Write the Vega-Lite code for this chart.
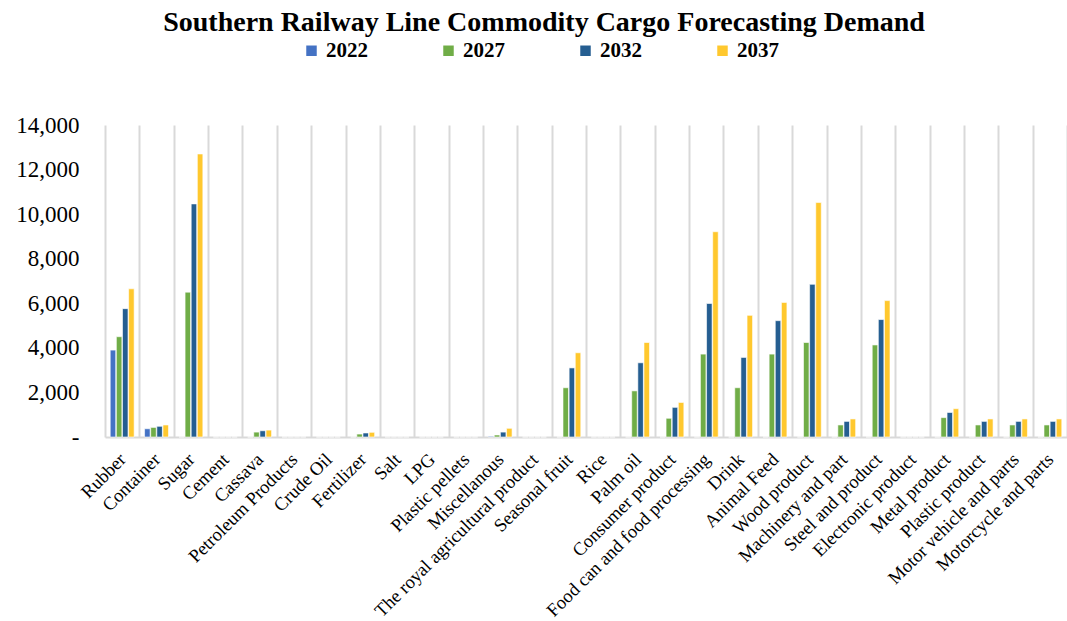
{
  "$schema": "https://vega.github.io/schema/vega-lite/v6.json",
  "width": 962,
  "height": 312,
  "autosize": {"type": "none"},
  "padding": {"left": 105, "top": 125, "right": 0, "bottom": 184},
  "background": "white",
  "config": {"view": {"stroke": null}},
  "title": {
    "text": "Southern Railway Line Commodity Cargo Forecasting Demand",
    "font": "Liberation Serif",
    "fontSize": 28,
    "fontWeight": "bold",
    "color": "black",
    "anchor": "middle",
    "frame": "group",
    "dx": -42,
    "offset": 3
  },
  "data": {
    "values": [
      {"commodity": "Rubber", "year": "2022", "tons": 3900},
      {"commodity": "Rubber", "year": "2027", "tons": 4500},
      {"commodity": "Rubber", "year": "2032", "tons": 5760},
      {"commodity": "Rubber", "year": "2037", "tons": 6650},
      {"commodity": "Container", "year": "2022", "tons": 370},
      {"commodity": "Container", "year": "2027", "tons": 430},
      {"commodity": "Container", "year": "2032", "tons": 480},
      {"commodity": "Container", "year": "2037", "tons": 540},
      {"commodity": "Sugar", "year": "2022", "tons": 0},
      {"commodity": "Sugar", "year": "2027", "tons": 6500},
      {"commodity": "Sugar", "year": "2032", "tons": 10460},
      {"commodity": "Sugar", "year": "2037", "tons": 12700},
      {"commodity": "Cement", "year": "2022", "tons": 0},
      {"commodity": "Cement", "year": "2027", "tons": 0},
      {"commodity": "Cement", "year": "2032", "tons": 0},
      {"commodity": "Cement", "year": "2037", "tons": 0},
      {"commodity": "Cassava", "year": "2022", "tons": 0},
      {"commodity": "Cassava", "year": "2027", "tons": 220},
      {"commodity": "Cassava", "year": "2032", "tons": 280},
      {"commodity": "Cassava", "year": "2037", "tons": 310},
      {"commodity": "Petroleum Products", "year": "2022", "tons": 0},
      {"commodity": "Petroleum Products", "year": "2027", "tons": 0},
      {"commodity": "Petroleum Products", "year": "2032", "tons": 0},
      {"commodity": "Petroleum Products", "year": "2037", "tons": 0},
      {"commodity": "Crude Oil", "year": "2022", "tons": 0},
      {"commodity": "Crude Oil", "year": "2027", "tons": 0},
      {"commodity": "Crude Oil", "year": "2032", "tons": 0},
      {"commodity": "Crude Oil", "year": "2037", "tons": 0},
      {"commodity": "Fertilizer", "year": "2022", "tons": 0},
      {"commodity": "Fertilizer", "year": "2027", "tons": 130},
      {"commodity": "Fertilizer", "year": "2032", "tons": 180},
      {"commodity": "Fertilizer", "year": "2037", "tons": 210},
      {"commodity": "Salt", "year": "2022", "tons": 0},
      {"commodity": "Salt", "year": "2027", "tons": 0},
      {"commodity": "Salt", "year": "2032", "tons": 0},
      {"commodity": "Salt", "year": "2037", "tons": 0},
      {"commodity": "LPG", "year": "2022", "tons": 0},
      {"commodity": "LPG", "year": "2027", "tons": 0},
      {"commodity": "LPG", "year": "2032", "tons": 0},
      {"commodity": "LPG", "year": "2037", "tons": 0},
      {"commodity": "Plastic pellets", "year": "2022", "tons": 0},
      {"commodity": "Plastic pellets", "year": "2027", "tons": 0},
      {"commodity": "Plastic pellets", "year": "2032", "tons": 0},
      {"commodity": "Plastic pellets", "year": "2037", "tons": 0},
      {"commodity": "Miscellanous", "year": "2022", "tons": 30},
      {"commodity": "Miscellanous", "year": "2027", "tons": 90},
      {"commodity": "Miscellanous", "year": "2032", "tons": 220},
      {"commodity": "Miscellanous", "year": "2037", "tons": 390},
      {"commodity": "The royal agricultural product", "year": "2022", "tons": 0},
      {"commodity": "The royal agricultural product", "year": "2027", "tons": 0},
      {"commodity": "The royal agricultural product", "year": "2032", "tons": 0},
      {"commodity": "The royal agricultural product", "year": "2037", "tons": 0},
      {"commodity": "Seasonal fruit", "year": "2022", "tons": 0},
      {"commodity": "Seasonal fruit", "year": "2027", "tons": 2210},
      {"commodity": "Seasonal fruit", "year": "2032", "tons": 3100},
      {"commodity": "Seasonal fruit", "year": "2037", "tons": 3780},
      {"commodity": "Rice", "year": "2022", "tons": 0},
      {"commodity": "Rice", "year": "2027", "tons": 0},
      {"commodity": "Rice", "year": "2032", "tons": 0},
      {"commodity": "Rice", "year": "2037", "tons": 0},
      {"commodity": "Palm oil", "year": "2022", "tons": 0},
      {"commodity": "Palm oil", "year": "2027", "tons": 2070},
      {"commodity": "Palm oil", "year": "2032", "tons": 3330},
      {"commodity": "Palm oil", "year": "2037", "tons": 4240},
      {"commodity": "Consumer product", "year": "2022", "tons": 0},
      {"commodity": "Consumer product", "year": "2027", "tons": 840},
      {"commodity": "Consumer product", "year": "2032", "tons": 1330},
      {"commodity": "Consumer product", "year": "2037", "tons": 1550},
      {"commodity": "Food can and food processing", "year": "2022", "tons": 0},
      {"commodity": "Food can and food processing", "year": "2027", "tons": 3720},
      {"commodity": "Food can and food processing", "year": "2032", "tons": 5990},
      {"commodity": "Food can and food processing", "year": "2037", "tons": 9210},
      {"commodity": "Drink", "year": "2022", "tons": 0},
      {"commodity": "Drink", "year": "2027", "tons": 2210},
      {"commodity": "Drink", "year": "2032", "tons": 3570},
      {"commodity": "Drink", "year": "2037", "tons": 5460},
      {"commodity": "Animal Feed", "year": "2022", "tons": 0},
      {"commodity": "Animal Feed", "year": "2027", "tons": 3720},
      {"commodity": "Animal Feed", "year": "2032", "tons": 5220},
      {"commodity": "Animal Feed", "year": "2037", "tons": 6040},
      {"commodity": "Wood product", "year": "2022", "tons": 0},
      {"commodity": "Wood product", "year": "2027", "tons": 4240},
      {"commodity": "Wood product", "year": "2032", "tons": 6850},
      {"commodity": "Wood product", "year": "2037", "tons": 10520},
      {"commodity": "Machinery and part", "year": "2022", "tons": 0},
      {"commodity": "Machinery and part", "year": "2027", "tons": 540},
      {"commodity": "Machinery and part", "year": "2032", "tons": 700},
      {"commodity": "Machinery and part", "year": "2037", "tons": 810},
      {"commodity": "Steel and product", "year": "2022", "tons": 0},
      {"commodity": "Steel and product", "year": "2027", "tons": 4130},
      {"commodity": "Steel and product", "year": "2032", "tons": 5270},
      {"commodity": "Steel and product", "year": "2037", "tons": 6120},
      {"commodity": "Electronic product", "year": "2022", "tons": 0},
      {"commodity": "Electronic product", "year": "2027", "tons": 0},
      {"commodity": "Electronic product", "year": "2032", "tons": 0},
      {"commodity": "Electronic product", "year": "2037", "tons": 0},
      {"commodity": "Metal product", "year": "2022", "tons": 0},
      {"commodity": "Metal product", "year": "2027", "tons": 870},
      {"commodity": "Metal product", "year": "2032", "tons": 1100},
      {"commodity": "Metal product", "year": "2037", "tons": 1270},
      {"commodity": "Plastic product", "year": "2022", "tons": 0},
      {"commodity": "Plastic product", "year": "2027", "tons": 540},
      {"commodity": "Plastic product", "year": "2032", "tons": 700},
      {"commodity": "Plastic product", "year": "2037", "tons": 810},
      {"commodity": "Motor vehicle and parts", "year": "2022", "tons": 0},
      {"commodity": "Motor vehicle and parts", "year": "2027", "tons": 540},
      {"commodity": "Motor vehicle and parts", "year": "2032", "tons": 700},
      {"commodity": "Motor vehicle and parts", "year": "2037", "tons": 810},
      {"commodity": "Motorcycle and parts", "year": "2022", "tons": 0},
      {"commodity": "Motorcycle and parts", "year": "2027", "tons": 540},
      {"commodity": "Motorcycle and parts", "year": "2032", "tons": 700},
      {"commodity": "Motorcycle and parts", "year": "2037", "tons": 810}
    ]
  },
  "mark": {"type": "bar", "stroke": "white", "strokeWidth": 0.6},
  "encoding": {
    "x": {
      "field": "commodity",
      "type": "nominal",
      "sort": null,
      "scale": {"paddingInner": 0, "paddingOuter": 0},
      "axis": {
        "title": null,
        "labelAngle": -45,
        "labelAlign": "right",
        "labelBaseline": "middle",
        "labelFont": "Liberation Serif",
        "labelFontSize": 18.5,
        "labelColor": "black",
        "labelPadding": 19,
        "labelLimit": 400,
        "ticks": false,
        "tickBand": "extent",
        "grid": true,
        "gridColor": "#d9d9d9",
        "gridWidth": 2,
        "domainColor": "#d9d9d9",
        "domainWidth": 2
      }
    },
    "xOffset": {
      "field": "year",
      "type": "nominal",
      "scale": {"paddingInner": 0.1, "paddingOuter": 0.85}
    },
    "y": {
      "field": "tons",
      "type": "quantitative",
      "scale": {"domain": [0, 14000], "nice": false},
      "axis": {
        "title": null,
        "values": [0, 2000, 4000, 6000, 8000, 10000, 12000, 14000],
        "labelExpr": "datum.value == 0 ? '-' : format(datum.value, ',')",
        "labelFont": "Liberation Serif",
        "labelFontSize": 23,
        "labelColor": "black",
        "labelPadding": 26,
        "ticks": false,
        "domain": false,
        "grid": false
      }
    },
    "color": {
      "field": "year",
      "type": "nominal",
      "scale": {
        "domain": ["2022", "2027", "2032", "2037"],
        "range": ["#4472C4", "#70AD47", "#255E91", "#FFC82E"]
      },
      "legend": {
        "title": null,
        "orient": "none",
        "direction": "horizontal",
        "columns": 4,
        "legendX": 196,
        "legendY": -85,
        "columnPadding": 70,
        "symbolType": "square",
        "symbolSize": 110,
        "symbolStrokeWidth": 0,
        "labelFont": "Liberation Serif",
        "labelFontSize": 21,
        "labelFontWeight": "bold",
        "labelColor": "black",
        "labelOffset": 4
      }
    }
  }
}
